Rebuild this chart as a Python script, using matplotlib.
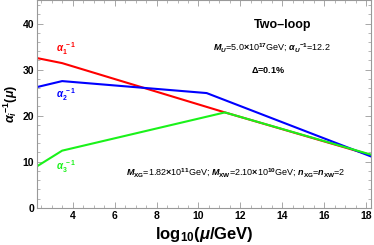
import matplotlib
matplotlib.use("Agg")
import matplotlib.pyplot as plt
from matplotlib.ticker import MultipleLocator

plt.rcParams['font.family'] = ['Liberation Sans', 'DejaVu Sans']
plt.rcParams['mathtext.fontset'] = 'custom'
plt.rcParams['mathtext.rm'] = 'Liberation Sans:bold'
plt.rcParams['mathtext.it'] = 'Liberation Sans:bold:italic'
plt.rcParams['mathtext.bf'] = 'Liberation Sans:bold'

# data (log10(mu/GeV), alpha_i^-1)
x_a1 = [2.3, 3.5, 11.26, 18.25]
y_a1 = [32.5, 31.4, 20.7, 11.4]
x_a2 = [2.3, 3.5, 10.39, 18.25]
y_a2 = [26.2, 27.5, 24.9, 11.1]
x_a3 = [2.3, 3.5, 11.26, 18.25]
y_a3 = [9.0, 12.4, 20.7, 11.5]

fig = plt.figure(figsize=(3.74, 2.45), dpi=100)
ax = fig.add_axes([0.0989, 0.152, 0.8944, 0.846])

ax.plot(x_a1, y_a1, color=(1, 0, 0), lw=1.5)
ax.plot(x_a2, y_a2, color=(0, 0, 1), lw=1.5)
ax.plot(x_a3, y_a3, color=(0.1, 0.95, 0.1), lw=1.5)

ax.set_xlim(2.3, 18.25)
ax.set_ylim(0, 45)
ax.xaxis.set_major_locator(MultipleLocator(2))
ax.xaxis.set_minor_locator(MultipleLocator(0.5))
ax.yaxis.set_major_locator(MultipleLocator(10))
ax.yaxis.set_minor_locator(MultipleLocator(2))
ax.set_yticks([0, 10, 20, 30, 40])
ax.tick_params(which='both', direction='in', top=True, right=True, color='#999999')
ax.tick_params(which='major', length=4, width=0.6, labelsize=7.5, pad=2)
ax.tick_params(which='minor', length=2, width=0.5)
for lab in ax.get_xticklabels() + ax.get_yticklabels():
    lab.set_fontweight('bold')
for s in ax.spines.values():
    s.set_color('#999999')
    s.set_linewidth(0.8)

ax.set_xlabel(r'$\mathrm{log}_{10}(\mathit{\mu}/\mathrm{GeV})$', fontsize=12, labelpad=3)
ax.set_ylabel(r'$\mathit{\alpha_i}^{-1}(\mathit{\mu})$', fontsize=9, labelpad=2)

ax.text(14.0, 39.7, 'Two\u2013loop', fontsize=9, fontweight='bold', ha='center', va='center')
ax.text(13.5, 34.8, r'$\mathit{M_U}$=5.0$\times$10$^{17}$GeV; $\mathit{\alpha_U}^{-1}$=12.2',
        fontsize=6.5, ha='center', va='center')
ax.text(13.3, 29.9, r'$\Delta$=0.1%', fontsize=6.5, fontweight='bold', ha='center', va='center')
ax.text(11.76, 7.6, r'$\mathit{M}_{\mathrm{XG}}$=1.82$\times$10$^{11}$GeV; $\mathit{M}_{\mathrm{XW}}$=2.10$\times$10$^{10}$GeV; $\mathit{n}_{\mathrm{XG}}$=$\mathit{n}_{\mathrm{XW}}$=2',
        fontsize=6.5, ha='center', va='center')

ax.text(3.7, 34.6, r'$\mathit{\alpha}_{1}^{\ -1}$', color=(1, 0, 0), fontsize=7, ha='center', va='center')
ax.text(3.7, 24.6, r'$\mathit{\alpha}_{2}^{\ -1}$', color=(0, 0, 1), fontsize=7, ha='center', va='center')
ax.text(3.7, 9.0, r'$\mathit{\alpha}_{3}^{\ -1}$', color=(0.1, 0.95, 0.1), fontsize=7, ha='center', va='center')

fig.savefig('out.png', dpi=100)
